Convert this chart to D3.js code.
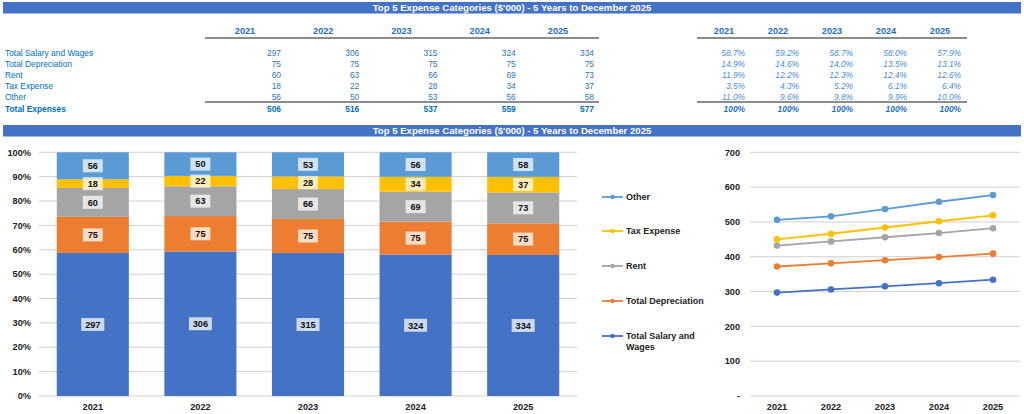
<!DOCTYPE html>
<html><head><meta charset="utf-8">
<script src="https://cdn.jsdelivr.net/npm/d3@7"></script>
<style>
html,body{margin:0;padding:0;background:#fff;}
svg{display:block;font-family:"Liberation Sans",Arial,sans-serif;}
</style></head>
<body><svg id="c" width="1024" height="414"></svg>
<script>
const title = "Top 5 Expense Categories ($'000) - 5 Years to December 2025";
const years = ["2021","2022","2023","2024","2025"];
const categories = ["Total Salary and Wages","Total Depreciation","Rent","Tax Expense","Other"];
const salary = [297,306,315,324,334];
const depreciation = [75,75,75,75,75];
const rent = [60,63,66,69,73];
const tax = [18,22,28,34,37];
const other = [56,50,53,56,58];
const totals = [506,516,537,559,577];
const pctSalary = ["58.7%","59.2%","58.7%","58.0%","57.9%"];
const pctDep = ["14.9%","14.6%","14.0%","13.5%","13.1%"];
const pctRent = ["11.9%","12.2%","12.3%","12.4%","12.6%"];
const pctTax = ["3.5%","4.3%","5.2%","6.1%","6.4%"];
const pctOther = ["11.0%","9.6%","9.8%","9.9%","10.0%"];
const pctTotal = ["100%","100%","100%","100%","100%"];
const pctTicks = [0,0.1,0.2,0.3,0.4,0.5,0.6,0.7,0.8,0.9,1];
const lineTicks = [0,100,200,300,400,500,600,700];
const colors = ["#4472C4","#ED7D31","#A5A5A5","#FFC000","#5B9BD5"];

const seriesVals = [salary,depreciation,rent,tax,other];
const pctRows = [pctSalary,pctDep,pctRent,pctTax,pctOther];
const svg = d3.select("#c");

// banners
function banner(y){
  svg.append("rect").attr("x",3).attr("y",y).attr("width",1018).attr("height",11.5).attr("fill","#4472C4");
  svg.append("text").attr("x",512).attr("y",y+9.3).attr("text-anchor","middle")
    .attr("fill","#fff").attr("font-weight","bold").attr("font-size","9.6px").text(title);
}
banner(2);
banner(125);

// ---- tables ----
const rowY = d3.scalePoint().domain(["h","sp",...categories,"Total Expenses"]).range([30.5,108.5]);
const labelColor = "#0070C0", numColor = "#2E75B6";
const leftCol = d3.scalePoint().domain(years).range([281,594]);
const rightCol = d3.scalePoint().domain(years).range([745,961]);
const tbl = svg.append("g").attr("font-size","8.4px");

function headerRow(scale, off, x1, x2){
  years.forEach(y=>{
    tbl.append("text").attr("x",scale(y)-off).attr("y",rowY("h")+3).attr("text-anchor","middle")
      .attr("fill","#1F6FC0").attr("font-weight","bold").attr("font-size","9.2px").text(y);
  });
  tbl.append("line").attr("x1",x1).attr("x2",x2).attr("y1",38).attr("y2",38).attr("stroke","#8c8c8c").attr("stroke-width",1.8);
  tbl.append("line").attr("x1",x1).attr("x2",x2).attr("y1",102).attr("y2",102).attr("stroke","#8c8c8c").attr("stroke-width",1.8);
}
headerRow(leftCol,36,205,599);
headerRow(rightCol,21,697,967);

categories.forEach((c,i)=>{
  tbl.append("text").attr("x",5).attr("y",rowY(c)+3).attr("fill",labelColor).text(c);
  years.forEach((y,j)=>{
    tbl.append("text").attr("x",leftCol(y)).attr("y",rowY(c)+3).attr("text-anchor","end")
      .attr("fill",numColor).text(seriesVals[i][j]);
    tbl.append("text").attr("x",rightCol(y)).attr("y",rowY(c)+3).attr("text-anchor","end")
      .attr("fill","#4A8ED6").attr("font-style","italic").text(pctRows[i][j]);
  });
});
tbl.append("text").attr("x",5).attr("y",rowY("Total Expenses")+3).attr("fill",labelColor).attr("font-weight","bold").text("Total Expenses");
years.forEach((y,j)=>{
  tbl.append("text").attr("x",leftCol(y)).attr("y",rowY("Total Expenses")+3).attr("text-anchor","end")
    .attr("fill",labelColor).attr("font-weight","bold").text(totals[j]);
  tbl.append("text").attr("x",rightCol(y)).attr("y",rowY("Total Expenses")+3).attr("text-anchor","end")
    .attr("fill","#1F6FC0").attr("font-weight","bold").attr("font-style","italic").text(pctTotal[j]);
});

// ---- stacked bar chart ----
const data = years.map((y,j)=>{
  const o={year:y};
  categories.forEach((c,i)=>o[c]=seriesVals[i][j]);
  return o;
});
const stack = d3.stack().keys(categories).offset(d3.stackOffsetExpand)(data);
const bx = d3.scaleBand().domain(years).range([39,577]).paddingInner(0.33).paddingOuter(0.165);
const by = d3.scaleLinear().domain([0,1]).range([396,152.3]);
const bg = svg.append("g");
bg.append("g").selectAll("line").data(pctTicks).join("line")
  .attr("x1",39).attr("x2",577).attr("y1",d=>by(d)).attr("y2",d=>by(d))
  .attr("stroke","#D0D0D0").attr("stroke-width",1);
bg.append("g").selectAll("text").data(pctTicks).join("text")
  .attr("x",31).attr("y",d=>by(d)+3.2).attr("text-anchor","end")
  .attr("font-size","9.2px").attr("font-weight","bold").attr("fill","#222")
  .text(d=>d3.format(".0%")(d));
stack.forEach((s,i)=>{
  bg.append("g").selectAll("rect").data(s).join("rect")
    .attr("x",d=>bx(d.data.year)).attr("width",bx.bandwidth())
    .attr("y",d=>by(d[1])).attr("height",d=>by(d[0])-by(d[1]))
    .attr("fill",colors[i]);
});
stack.forEach((s,i)=>{
  s.forEach(d=>{
    const v = d.data[categories[i]];
    const cx = bx(d.data.year)+bx.bandwidth()/2;
    const cy = (by(d[0])+by(d[1]))/2;
    const w = String(v).length>2 ? 23 : 20;
    bg.append("rect").attr("x",cx-w/2).attr("y",cy-6.5).attr("width",w).attr("height",13)
      .attr("fill","#fff").attr("fill-opacity",0.72);
    bg.append("text").attr("x",cx).attr("y",cy+3.3).attr("text-anchor","middle")
      .attr("font-size","9.2px").attr("font-weight","bold").attr("fill","#111").text(v);
  });
});
bg.append("g").selectAll("text").data(years).join("text")
  .attr("x",d=>bx(d)+bx.bandwidth()/2).attr("y",410).attr("text-anchor","middle")
  .attr("font-size","9.2px").attr("font-weight","bold").attr("fill","#222").text(d=>d);

// ---- legend ----
const legY = [336,301,266,231,197];
const lg = svg.append("g");
categories.forEach((c,i)=>{
  const y = legY[i];
  lg.append("line").attr("x1",602).attr("x2",623).attr("y1",y).attr("y2",y).attr("stroke",colors[i]).attr("stroke-width",1.8);
  lg.append("circle").attr("cx",612.5).attr("cy",y).attr("r",2.2).attr("fill",colors[i]);
  const t = lg.append("text").attr("x",626).attr("y",y+3.2).attr("font-size","9px").attr("font-weight","bold").attr("fill","#222");
  if(c==="Total Salary and Wages"){
    t.append("tspan").attr("x",626).text("Total Salary and");
    t.append("tspan").attr("x",626).attr("dy",11).text("Wages");
  } else t.text(c);
});

// ---- stacked line chart ----
const lx = d3.scalePoint().domain(years).range([750,1020]).padding(0.5);
const ly = d3.scaleLinear().domain([0,700]).range([396,152.3]);
const lgp = svg.append("g");
lgp.append("g").selectAll("line").data(lineTicks).join("line")
  .attr("x1",750).attr("x2",1020).attr("y1",d=>ly(d)).attr("y2",d=>ly(d))
  .attr("stroke","#D0D0D0").attr("stroke-width",1);
lgp.append("g").selectAll("text").data(lineTicks).join("text")
  .attr("x",740).attr("y",d=>ly(d)+3.2).attr("text-anchor","end")
  .attr("font-size","9.2px").attr("font-weight","bold").attr("fill","#222")
  .text(d=>d===0?"-":d);
const line = d3.line().x(d=>lx(d.data.year)).y(d=>ly(d[1]));
const lstack = d3.stack().keys(categories)(data);
lstack.forEach((s,i)=>{
  lgp.append("path").datum(s).attr("d",line).attr("fill","none").attr("stroke",colors[i]).attr("stroke-width",1.8);
  lgp.append("g").selectAll("circle").data(s).join("circle")
    .attr("cx",d=>lx(d.data.year)).attr("cy",d=>ly(d[1])).attr("r",3.3).attr("fill",colors[i]);
});
lgp.append("g").selectAll("text").data(years).join("text")
  .attr("x",d=>lx(d)).attr("y",410).attr("text-anchor","middle")
  .attr("font-size","9.2px").attr("font-weight","bold").attr("fill","#222").text(d=>d);
</script></body></html>
